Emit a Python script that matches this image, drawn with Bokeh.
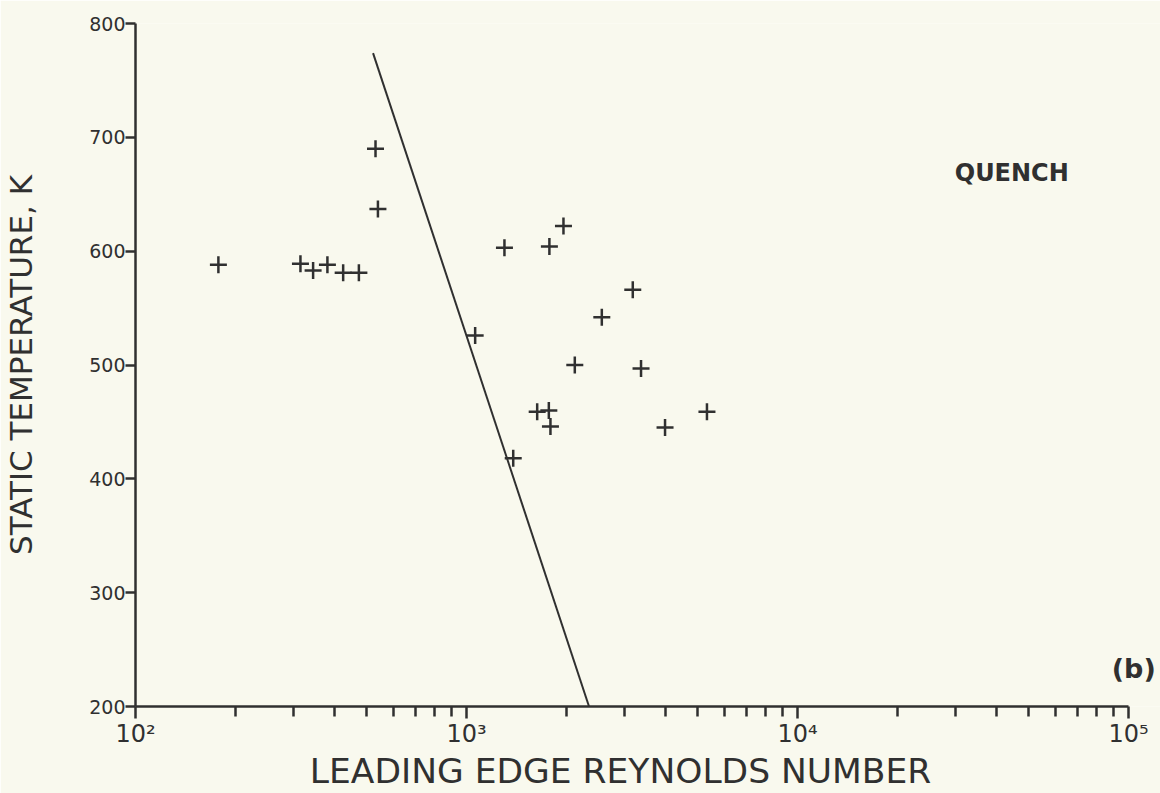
import math
from bokeh.plotting import figure
from bokeh.models import FixedTicker, Label
from bokeh.embed import file_html
from bokeh.resources import INLINE

# Quench runs: leading-edge Reynolds number vs static temperature (K)
quench_re = [178, 315, 344, 380, 424, 473, 531, 540, 1062, 1302, 1780, 1963,
             3179, 2563, 2124, 3367, 1635, 1773, 1793, 1384, 3979, 5326]
quench_t = [588, 589, 583, 588, 581, 581, 690, 637, 526, 603, 604, 622,
            566, 542, 500, 497, 459, 460, 446, 418, 445, 459]

# Boundary line
boundary_re = [522, 2345]
boundary_t = [774, 200]

x_major = [1e2, 1e3, 1e4, 1e5]
x_minor = [m * 10 ** k for k in (2, 3, 4) for m in range(2, 10)]
x_tick_labels = {100: "10²", 1000: "10³", 10000: "10⁴", 100000: "10⁵"}
y_major = [200, 300, 400, 500, 600, 700, 800]

INK = "#303030"
PAPER = "#f9f9ee"

# frame runs past 10^5 so the panel tag fits; axes stop at 10^5
x_end = 10 ** (5 + 32 / 331.3)

p = figure(width=1160, height=793, x_axis_type="log",
           x_range=(1e2, x_end), y_range=(200, 800),
           output_backend="svg", toolbar_location=None,
           min_border_left=134, min_border_right=0,
           min_border_top=23, min_border_bottom=87,
           background_fill_color=PAPER, border_fill_color=PAPER,
           outline_line_color=None)

p.xgrid.visible = False
p.ygrid.visible = False

xa = p.xaxis[0]
xa.ticker = FixedTicker(ticks=x_major, minor_ticks=x_minor)
xa.major_label_overrides = x_tick_labels
xa.bounds = (1e2, 1e5)
# trailing no-break spaces keep the title centred under the 10^2..10^5 span
xa.axis_label = "LEADING EDGE REYNOLDS NUMBER" + "\u00a0" * 5

ya = p.yaxis[0]
ya.ticker = FixedTicker(ticks=y_major, minor_ticks=[])
ya.axis_label = "STATIC TEMPERATURE, K"

for ax in (xa, ya):
    ax.axis_line_color = INK
    ax.axis_line_width = 2.5
    ax.major_tick_line_color = INK
    ax.major_tick_line_width = 2.5
    ax.minor_tick_line_color = INK
    ax.minor_tick_line_width = 2.5
    ax.major_tick_in = 0
    ax.minor_tick_in = 0
    ax.major_label_text_color = INK
    ax.major_label_text_font = "DejaVu Sans"
    ax.axis_label_text_color = INK
    ax.axis_label_text_font = "DejaVu Sans"
    ax.axis_label_text_font_style = "normal"

xa.major_tick_out = 12
xa.minor_tick_out = 10
xa.major_label_text_font_size = "24px"
xa.major_label_standoff = 1
xa.axis_label_text_font_size = "34.5px"
xa.axis_label_standoff = 0

ya.major_tick_out = 10
ya.major_label_text_font_size = "19px"
ya.major_label_standoff = 0
ya.axis_label_text_font_size = "31px"
ya.axis_label_standoff = 47

p.line(boundary_re, boundary_t, line_color=INK, line_width=2)
p.scatter(quench_re, quench_t, marker="cross", size=17,
          line_color=INK, line_width=2.5)

p.add_layout(Label(x=29850, y=669, text="QUENCH", text_font="DejaVu Sans",
                   text_font_style="bold", text_font_size="24px",
                   text_color=INK, text_baseline="alphabetic"))
p.add_layout(Label(x=89000, y=233, text="(b)", text_font="DejaVu Sans",
                   text_font_style="bold", text_font_size="27px",
                   text_color=INK, text_baseline="middle"))

open("out.html", "w").write(file_html(p, INLINE))
